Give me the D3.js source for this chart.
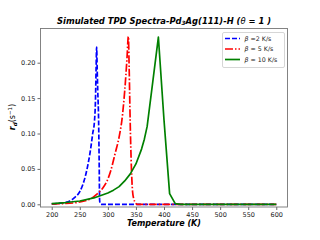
<!DOCTYPE html>
<html><head><meta charset="utf-8">
<script src="https://cdn.jsdelivr.net/npm/d3@7"></script>
<style>body{margin:0;background:#fff}svg{display:block}text{font-family:"DejaVu Sans",sans-serif}</style>
</head><body><div id="c"></div>
<script>
const xTicks=[200,250,300,350,400,450,500,550,600];
const yTicks=[0,0.05,0.10,0.15,0.20];
const seriesNames=["β =2 K/s","β = 5 K/s","β = 10 K/s"];
const blueT=[200,210,220,230,240,250,255,260,265,270,273,276,278,279,280,281,282,283.5,284.5,285.3,286,288,300,350,400,450,500,550,600];
const blueV=[0.0005,0.001,0.002,0.004,0.009,0.018,0.027,0.04,0.058,0.082,0.1,0.116,0.15,0.19,0.222,0.19,0.16,0.119,0.06,0.006,0.002,0,0,0,0,0,0,0,0];
const redT=[200,220,240,260,270,280,290,298,305,313,320,325,330,334,336.5,338,339.7,342,344,346,348.6,352,360,400,450,500,550,600];
const redV=[0.0005,0.001,0.002,0.005,0.008,0.014,0.022,0.032,0.047,0.072,0.095,0.119,0.16,0.205,0.237,0.19,0.119,0.05,0.018,0.008,0.003,0,0,0,0,0,0,0];
const greenT=[200,225,250,275,300,310,320,330,340,350,360,365,370,380,390,400,410,420,430,450,500,550,600];
const greenV=[0.001,0.0025,0.0047,0.009,0.016,0.02,0.025,0.033,0.043,0.057,0.078,0.092,0.11,0.173,0.236,0.119,0.015,0.001,0,0,0,0,0];

(function(){
const W=320,H=240;
const svg=d3.select("#c").append("svg").attr("width",W).attr("height",H);
const x=d3.scaleLinear().domain([180,620]).range([40.5,287.5]);
const y=d3.scaleLinear().domain([0,0.2]).range([204.3,62.7]);
const yTop=28.5,yBot=207;

const series=[
 {T:blueT,V:blueV,color:"#0000ff",dash:"5,2",curve:d3.curveMonotoneX},
 {T:redT,V:redV,color:"#ff0000",dash:"8,2,1.5,2",curve:d3.curveMonotoneX},
 {T:greenT,V:greenV,color:"#008000",dash:null,curve:d3.curveLinear}
];
svg.append("clipPath").attr("id","clp").append("rect").attr("x",40.5).attr("y",yTop).attr("width",247).attr("height",yBot-yTop);
const g=svg.append("g").attr("clip-path","url(#clp)");
series.forEach(s=>{
  const line=d3.line().x((d)=>x(d[0])).y((d)=>y(d[1])).curve(s.curve);
  const pts=s.T.map((t,i)=>[t,s.V[i]]);
  g.append("path").attr("d",line(pts)).attr("fill","none").attr("stroke",s.color)
   .attr("stroke-width",1.7).attr("stroke-dasharray",s.dash).attr("stroke-linejoin","round");
});

const xa=svg.append("g").attr("transform",`translate(0,${yBot})`)
  .call(d3.axisBottom(x).tickValues(xTicks).tickFormat(d3.format("d")).tickSize(3).tickPadding(2));
const ya=svg.append("g").attr("transform","translate(40.5,0)")
  .call(d3.axisLeft(y).tickValues(yTicks).tickFormat(d3.format(".2f")).tickSize(3).tickPadding(2));
[xa,ya].forEach(a=>{a.select(".domain").remove();a.selectAll("line").attr("stroke","#444").attr("stroke-width",0.8);
  a.selectAll("text").attr("fill","#222").style("font-size","6.5px");});
svg.append("rect").attr("x",40.5).attr("y",yTop).attr("width",247).attr("height",yBot-yTop)
  .attr("fill","none").attr("stroke","#777").attr("stroke-width",0.9);

const title=svg.append("text").attr("x",164).attr("y",23.5).attr("text-anchor","middle")
  .style("font-size","8.4px").style("font-weight","bold").style("font-style","italic");
title.append("tspan").text("Simulated TPD Spectra-Pd");
title.append("tspan").text("3").attr("dy",1.8).style("font-size","5.8px");
title.append("tspan").text("Ag(111)-H (").attr("dy",-1.8);
title.append("tspan").text("θ").style("font-weight","normal");
title.append("tspan").text(" = 1 )");

svg.append("text").attr("x",164).attr("y",226).attr("text-anchor","middle")
  .style("font-size","8px").style("font-weight","bold").style("font-style","italic").text("Temperature (K)");
const yl=svg.append("text").attr("transform","translate(15,117) rotate(-90)").attr("text-anchor","middle").style("font-size","8px");
yl.append("tspan").text("r").style("font-weight","bold").style("font-style","italic");
yl.append("tspan").text("d").attr("dy",1.8).style("font-size","5.5px").style("font-weight","bold").style("font-style","italic");
yl.append("tspan").text("(s").attr("dy",-1.8);
yl.append("tspan").text("−1").attr("dy",-3).style("font-size","5.5px");
yl.append("tspan").text(")").attr("dy",3);

const lg=svg.append("g");
lg.append("rect").attr("x",222.5).attr("y",32.5).attr("width",62).attr("height",35).attr("rx",1.5)
  .attr("fill","#fff").attr("stroke","#ccc").attr("stroke-width",0.8);
series.forEach((s,i)=>{
  const yy=38.5+i*10.5;
  lg.append("line").attr("x1",225).attr("x2",240).attr("y1",yy).attr("y2",yy).attr("stroke",s.color)
    .attr("stroke-width",1.7).attr("stroke-dasharray",s.dash);
  const t=lg.append("text").attr("x",244.5).attr("y",yy+2.3).style("font-size","6.3px").attr("fill","#222");
  t.append("tspan").text(seriesNames[i][0]).style("font-style","italic");
  t.append("tspan").text(seriesNames[i].slice(1));
});
})();
</script></body></html>
